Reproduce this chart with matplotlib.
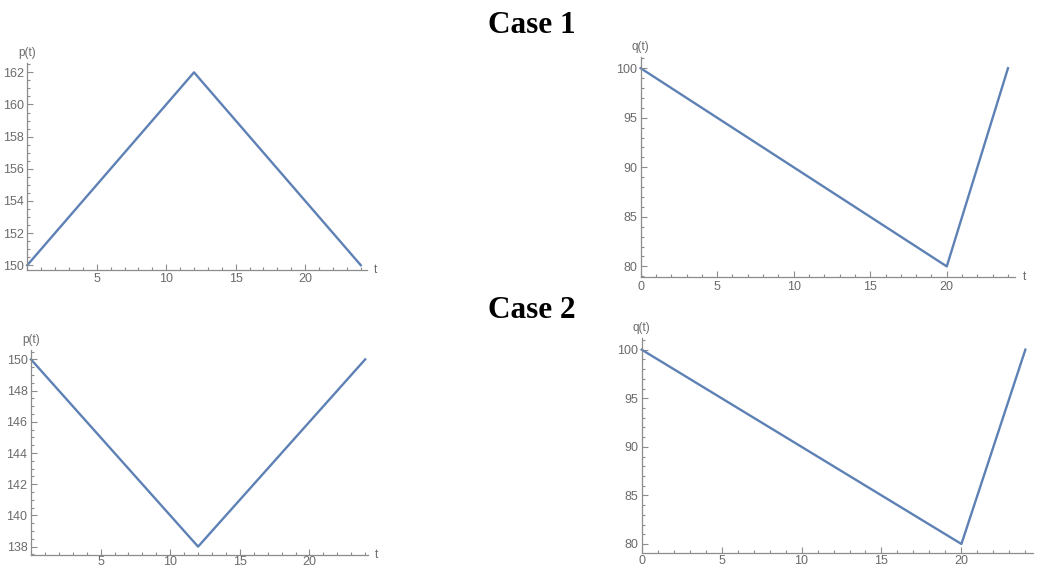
import matplotlib.pyplot as plt
from matplotlib.ticker import MultipleLocator

# ------------------------------------------
# Data (breakpoints of the piecewise linear paths)
# ------------------------------------------

t_p = [0, 12, 24]
t_q = [0, 20, 24]

case1_p = [150, 162, 150]
case1_q = [100, 80, 100]

case2_p = [150, 138, 150]
case2_q = [100, 80, 100]

line_color = '#5E81B5'
axis_color = '#8c8c8c'
label_color = '#6b6b6b'

plt.rcParams['font.family'] = ['Liberation Sans', 'DejaVu Sans']

fig = plt.figure(figsize=(10.4, 5.7), dpi=100)


def draw_panel(rect, t, y, xlim, ylim, ymajor, yminor, ylabel,
               show_t=True, hide_x0=True, xpad=2.5):
    ax = fig.add_axes(rect)
    ax.plot(t, y, color=line_color, linewidth=1.7, clip_on=False)
    ax.set_xlim(*xlim)
    ax.set_ylim(*ylim)

    for side in ['top', 'right']:
        ax.spines[side].set_visible(False)
    for side in ['left', 'bottom']:
        ax.spines[side].set_color(axis_color)
        ax.spines[side].set_linewidth(0.9)

    ax.xaxis.set_major_locator(MultipleLocator(5))
    ax.xaxis.set_minor_locator(MultipleLocator(1))
    ax.yaxis.set_major_locator(MultipleLocator(ymajor))
    ax.yaxis.set_minor_locator(MultipleLocator(yminor))

    ax.tick_params(which='both', direction='in', color=axis_color,
                   labelcolor=label_color, labelsize=9, width=0.8)
    ax.tick_params(which='major', length=4, pad=2.5)
    ax.tick_params(which='minor', length=2)
    ax.tick_params(axis='x', which='major', pad=xpad)

    if hide_x0:
        ax.set_xticks([v for v in range(5, int(xlim[1]) + 1, 5)])

    ax.text(0, 1.02, ylabel, transform=ax.transAxes, ha='center',
            va='bottom', fontsize=8.5, color=label_color)
    if show_t:
        ax.text(1.02, 0, 't', transform=ax.transAxes, ha='left',
                va='center', fontsize=8.5, color=label_color)
    return ax


# Case 1
draw_panel([0.0262, 0.5263, 0.3267, 0.3637], t_p, case1_p,
           (0, 24.45), (149.7, 162.6), 2, 0.5, 'p(t)')
draw_panel([0.616, 0.5135, 0.36, 0.386], t_q, case1_q,
           (0, 24.46), (78.9, 101.1), 5, 1, 'q(t)', hide_x0=False)

# Case 2
draw_panel([0.0298, 0.0265, 0.324, 0.3594], t_p, case2_p,
           (0, 24.2), (137.47, 150.6), 2, 0.5, 'p(t)', xpad=1)
draw_panel([0.617, 0.0293, 0.376, 0.3777], t_q, case2_q,
           (0, 24.46), (79.04, 101.2), 5, 1, 'q(t)',
           show_t=False, hide_x0=False, xpad=1.5)

fig.text(0.511, 0.956, 'Case 1', ha='center', va='center',
         fontsize=22.5, fontweight='bold', family='Liberation Serif')
fig.text(0.511, 0.455, 'Case 2', ha='center', va='center',
         fontsize=22.5, fontweight='bold', family='Liberation Serif')

fig.savefig('out.png', dpi=100)
